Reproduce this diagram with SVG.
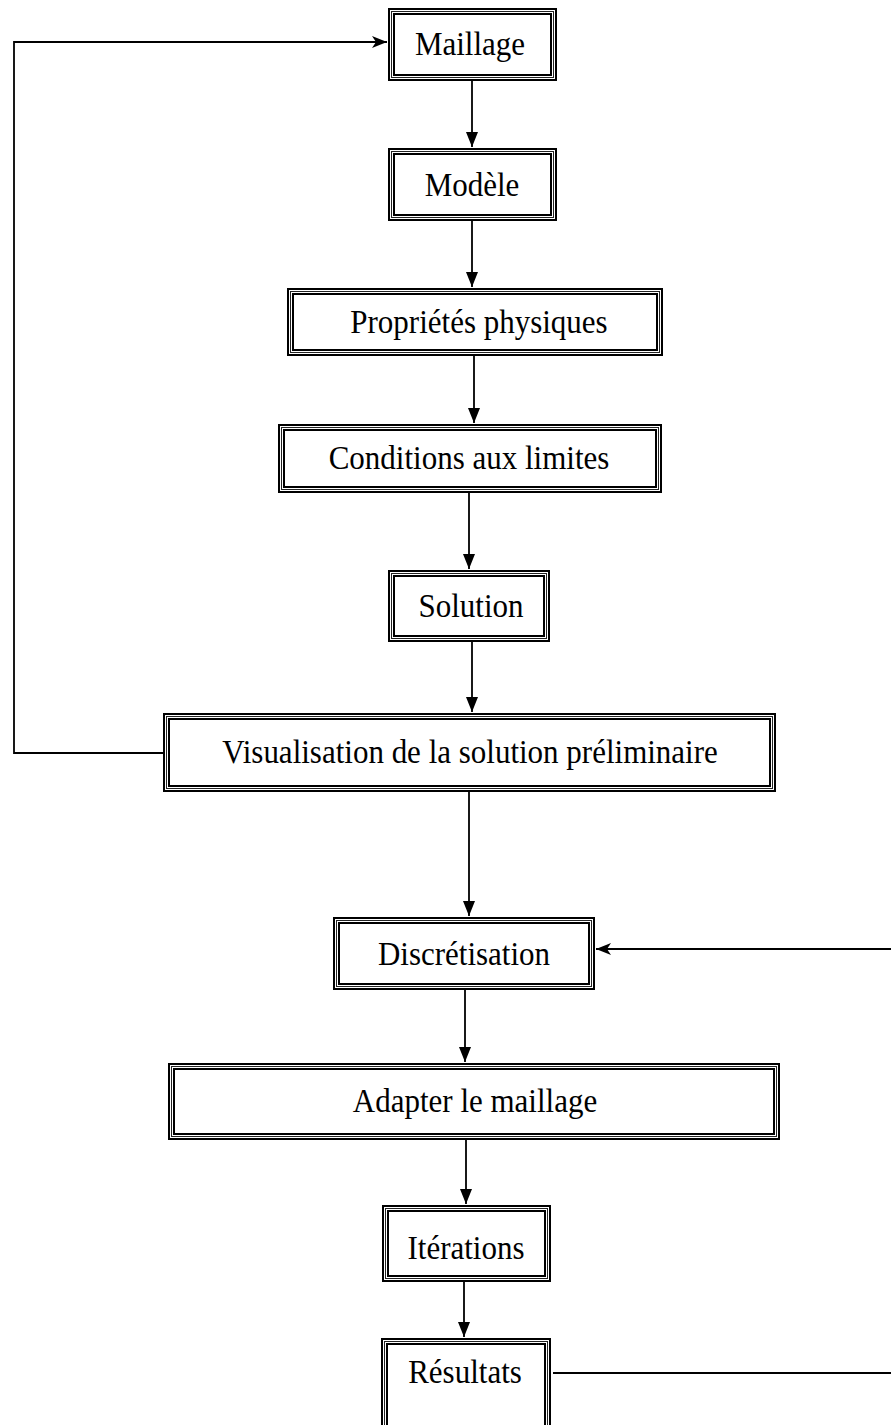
<svg xmlns="http://www.w3.org/2000/svg" width="891" height="1425" viewBox="0 0 891 1425">
  <style>
    .o { fill: #fff; stroke: #000; stroke-width: 2; }
    .m { fill: none; stroke: #222; stroke-width: 1; }
    .i { fill: none; stroke: #000; stroke-width: 2; }
    .t { font-family: "Liberation Serif", "Times New Roman", serif; font-size: 31px; fill: #000; text-anchor: middle; }
    .c { fill: none; stroke: #000; stroke-width: 1.8; }
  </style>
  <defs>
    <marker id="ah" markerUnits="userSpaceOnUse" markerWidth="16" markerHeight="14" refX="15" refY="7" orient="auto">
      <path d="M0,1 L15,7 L0,13 Z" fill="#000"/>
    </marker>
    <marker id="sh" markerUnits="userSpaceOnUse" markerWidth="16" markerHeight="14" refX="15" refY="7" orient="auto">
      <path d="M0,1 L15,7 L0,13 L4,7 Z" fill="#000"/>
    </marker>
  </defs>
  <rect width="891" height="1425" fill="#fff"/>

  <g id="connectors">
    <line class="c" x1="472" y1="81" x2="472" y2="147" marker-end="url(#ah)"/>
    <line class="c" x1="472" y1="221" x2="472" y2="287" marker-end="url(#ah)"/>
    <line class="c" x1="474" y1="356" x2="474" y2="423" marker-end="url(#ah)"/>
    <line class="c" x1="469" y1="493" x2="469" y2="569" marker-end="url(#ah)"/>
    <line class="c" x1="472" y1="642" x2="472" y2="712" marker-end="url(#ah)"/>
    <line class="c" x1="469" y1="792" x2="469" y2="916" marker-end="url(#ah)"/>
    <line class="c" x1="465" y1="990" x2="465" y2="1062" marker-end="url(#ah)"/>
    <line class="c" x1="466" y1="1140" x2="466" y2="1204" marker-end="url(#ah)"/>
    <line class="c" x1="464" y1="1282" x2="464" y2="1337" marker-end="url(#ah)"/>
    <path class="c" d="M163,753 H14 V42 H387" marker-end="url(#sh)"/>
    <path class="c" d="M553,1373 H905 V949 H596" marker-end="url(#sh)"/>
  </g>

  <g id="n-maillage">
    <rect class="o" x="389" y="9" width="167" height="71"/>
    <rect class="m" x="391.5" y="11.5" width="162" height="66"/>
    <rect class="i" x="394" y="14" width="157" height="61"/>
    <text class="t" transform="translate(470,55) scale(1,1.1)">Maillage</text>
  </g>
  <g id="n-modele">
    <rect class="o" x="389" y="149" width="167" height="71"/>
    <rect class="m" x="391.5" y="151.5" width="162" height="66"/>
    <rect class="i" x="394" y="154" width="157" height="61"/>
    <text class="t" transform="translate(472,196) scale(1,1.1)">Modèle</text>
  </g>
  <g id="n-proprietes">
    <rect class="o" x="288" y="289" width="374" height="66"/>
    <rect class="m" x="290.5" y="291.5" width="369" height="61"/>
    <rect class="i" x="293" y="294" width="364" height="56"/>
    <text class="t" transform="translate(479,333) scale(1,1.1)">Propriétés physiques</text>
  </g>
  <g id="n-conditions">
    <rect class="o" x="279" y="425" width="382" height="67"/>
    <rect class="m" x="281.5" y="427.5" width="377" height="62"/>
    <rect class="i" x="284" y="430" width="372" height="57"/>
    <text class="t" transform="translate(469,469) scale(1,1.1)">Conditions aux limites</text>
  </g>
  <g id="n-solution">
    <rect class="o" x="389" y="571" width="160" height="70"/>
    <rect class="m" x="391.5" y="573.5" width="155" height="65"/>
    <rect class="i" x="394" y="576" width="150" height="60"/>
    <text class="t" transform="translate(471,617) scale(1,1.1)">Solution</text>
  </g>
  <g id="n-visualisation">
    <rect class="o" x="164" y="714" width="611" height="77"/>
    <rect class="m" x="166.5" y="716.5" width="606" height="72"/>
    <rect class="i" x="169" y="719" width="601" height="67"/>
    <text class="t" transform="translate(470,763) scale(1,1.1)">Visualisation de la solution préliminaire</text>
  </g>
  <g id="n-discretisation">
    <rect class="o" x="334" y="918" width="260" height="71"/>
    <rect class="m" x="336.5" y="920.5" width="255" height="66"/>
    <rect class="i" x="339" y="923" width="250" height="61"/>
    <text class="t" transform="translate(464,965) scale(1,1.1)">Discrétisation</text>
  </g>
  <g id="n-adapter">
    <rect class="o" x="169" y="1064" width="610" height="75"/>
    <rect class="m" x="171.5" y="1066.5" width="605" height="70"/>
    <rect class="i" x="174" y="1069" width="600" height="65"/>
    <text class="t" transform="translate(475,1112) scale(1,1.1)">Adapter le maillage</text>
  </g>
  <g id="n-iterations">
    <rect class="o" x="383" y="1206" width="167" height="75"/>
    <rect class="m" x="385.5" y="1208.5" width="162" height="70"/>
    <rect class="i" x="388" y="1211" width="157" height="65"/>
    <text class="t" transform="translate(466,1259) scale(1,1.1)">Itérations</text>
  </g>
  <g id="n-resultats">
    <rect class="o" x="382" y="1339" width="168" height="110"/>
    <rect class="m" x="384.5" y="1341.5" width="163" height="105"/>
    <rect class="i" x="387" y="1344" width="158" height="100"/>
    <text class="t" transform="translate(465,1383) scale(1,1.1)">Résultats</text>
  </g>
</svg>
